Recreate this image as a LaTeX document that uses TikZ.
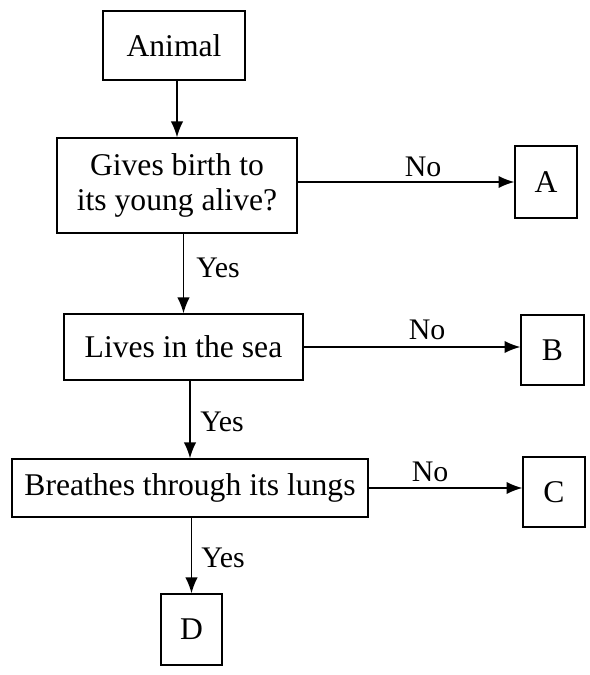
\documentclass[tikz,border=0pt]{standalone}
\usepackage{fontspec}
\setmainfont{Liberation Serif}
\usetikzlibrary{arrows.meta}

\begin{document}
\begin{tikzpicture} [x = 0.02cm, y = -0.02cm,
	box/.style = {draw, line width = 0.8pt, inner sep = 0pt, align = center, font = \fontsize{18}{20}\selectfont},
	arr/.style = {line width = 0.8pt, -{Latex[length = 9pt, width = 7pt]}},
	lab/.style = {font = \fontsize{17}{20}\selectfont}]
	\useasboundingbox (0,0) rectangle (589,675);
	% question boxes down the left
	\node [box, minimum width = 2.84cm, minimum height = 1.38cm] (animal) at (174,45.5) {Animal};
	\node [box, minimum width = 4.8cm, minimum height = 1.9cm] (birth) at (177,185.5) {Gives birth to\\its young alive?};
	\node [box, minimum width = 4.78cm, minimum height = 1.32cm] (sea) at (183.5,347) {Lives in the sea};
	\node [box, minimum width = 7.12cm, minimum height = 1.16cm] (lungs) at (190,488) {Breathes through its lungs};
	% answer boxes
	\node [box, minimum width = 1.24cm, minimum height = 1.44cm] (A) at (546,182) {A};
	\node [box, minimum width = 1.26cm, minimum height = 1.4cm] (B) at (552.5,350) {B};
	\node [box, minimum width = 1.24cm, minimum height = 1.4cm] (C) at (554,492) {C};
	\node [box, minimum width = 1.22cm, minimum height = 1.42cm] (D) at (191.5,629.5) {D};
	% connectors
	\draw [arr] (animal.south -| birth.north) -- (birth.north);
	\draw [arr] (A.west -| birth.east) -- (A.west);
	\draw [arr] (sea.north |- birth.south) -- (sea.north);
	\draw [arr] (sea.east) -- (sea.east -| B.west);
	\draw [arr] (lungs.north |- sea.south) -- (lungs.north);
	\draw [arr] (lungs.east) -- (lungs.east -| C.west);
	\draw [arr] (D.north |- lungs.south) -- (D.north);
	% labels
	\node [lab] (noA) at (423,167) {No};
	\node [lab] (noB) at (427,330) {No};
	\node [lab] (noC) at (430,472) {No};
	\node [lab] (yesSea) at (218,268) {Yes};
	\node [lab] (yesLungs) at (222,422) {Yes};
	\node [lab] (yesD) at (223,558) {Yes};
\end{tikzpicture}
\end{document}
